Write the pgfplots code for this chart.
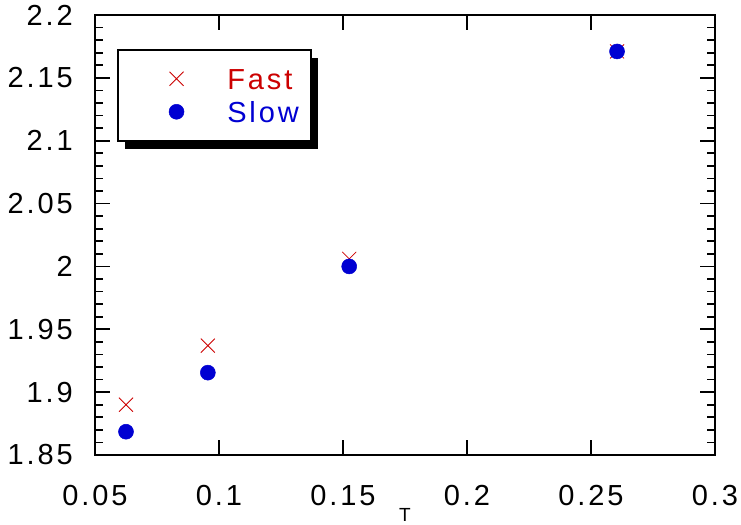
\documentclass[border=0pt]{standalone}
\usepackage{fontspec}
\setmainfont[LetterSpace=10]{Liberation Sans}
\usepackage{pgfplots}
\pgfplotsset{compat=1.18}
\usetikzlibrary{shadows}
\definecolor{fastred}{RGB}{204,0,0}
\definecolor{slowblue}{RGB}{0,0,210}

\begin{document}
\begin{tikzpicture}
\useasboundingbox (-95bp,-70bp) rectangle (646bp,455bp);
\begin{axis}[
    scale only axis,
    width=620bp, height=440bp,
    xmin=0.05, xmax=0.3,
    ymin=1.85, ymax=2.2,
    xtick={0.05,0.1,0.15,0.2,0.25,0.3},
    xticklabels={0.05,0.1,0.15,0.2,0.25,0.3},
    ytick={1.85,1.9,1.95,2,2.05,2.1,2.15,2.2},
    yticklabels={1.85,1.9,1.95,2,2.05,2.1,2.15,2.2},
    minor x tick num=0, minor y tick num=4,
    tick align=inside,
    major tick length=15bp, minor tick length=8bp,
    tick style={line width=1.8bp, black},
    axis line style={line width=2.5bp},
    ticklabel style={font=\fontsize{29bp}{34bp}\selectfont, inner sep=0pt},
    xticklabel style={anchor=north, yshift=-30bp},
    yticklabel style={anchor=east, xshift=-22bp},
    xlabel={T},
    xlabel style={at={(axis description cs:0.5,0)}, anchor=north, yshift=-53bp,
        inner sep=0pt, font=\fontsize{19bp}{22bp}\selectfont},
    clip=false,
    legend cell align=left,
    legend image code/.code={
        \path (-46bp,0bp) (50bp,0bp);
        \draw[#1] plot coordinates {(0bp,0bp)};
    },
    legend style={
        at={(axis description cs:0.0355,0.9227)}, anchor=north west,
        draw=black, line width=1.5bp, fill=white,
        inner xsep=12bp, inner ysep=18.5bp,
        row sep=12bp,
        font=\fontsize{29bp}{34bp}\selectfont,
        nodes={inner sep=0pt, text height=21bp, text depth=0pt},
        drop shadow={shadow xshift=7bp, shadow yshift=-8bp, fill=black, opacity=1},
    },
]
\addplot[only marks, mark=x, mark size=9.9bp, color=fastred,
    mark options={line width=0.8bp}]
    coordinates {
        (0.0625, 1.890)
        (0.0955, 1.937)
        (0.1525, 2.006)
        (0.2605, 2.171)
    };
\addlegendentry{\textcolor{fastred}{Fast}}
\addplot[only marks, mark=*, mark size=7.5bp, color=slowblue,
    mark options={fill=slowblue, line width=0.5bp}]
    coordinates {
        (0.0625, 1.8685)
        (0.0955, 1.9155)
        (0.1525, 2.000)
        (0.2605, 2.171)
    };
\addlegendentry{\textcolor{slowblue}{Slow}}
\end{axis}
\end{tikzpicture}
\end{document}
